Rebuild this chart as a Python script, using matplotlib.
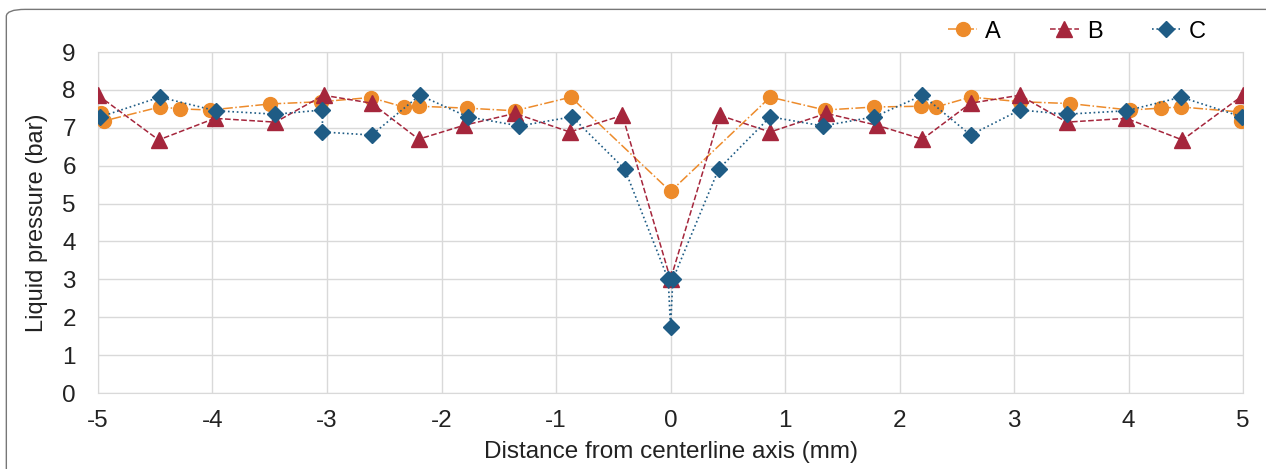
import matplotlib.pyplot as plt
from matplotlib.patches import FancyBboxPatch

plt.rcParams['font.family'] = ['Liberation Sans', 'DejaVu Sans']
plt.rcParams['axes.unicode_minus'] = False

# Series A (orange circles)
a_x = [-4.97, -4.95, -4.46, -4.28, -4.02, -3.50, -3.05, -2.62, -2.33, -2.20, -1.78, -1.36, -0.87, 0.0,
       0.87, 1.35, 1.78, 2.19, 2.32, 2.62, 3.05, 3.49, 4.01, 4.28, 4.46, 4.97, 4.98]
a_y = [7.39, 7.18, 7.55, 7.50, 7.47, 7.63, 7.69, 7.80, 7.55, 7.57, 7.52, 7.45, 7.81, 5.32,
       7.81, 7.47, 7.55, 7.57, 7.55, 7.81, 7.69, 7.64, 7.47, 7.52, 7.55, 7.42, 7.17]

# Series B (red triangles)
b_x = [-5.0, -4.47, -3.98, -3.45, -3.03, -2.61, -2.20, -1.80, -1.36, -0.88, -0.42, 0.0,
       0.43, 0.87, 1.36, 1.80, 2.20, 2.62, 3.05, 3.46, 3.98, 4.47, 5.0]
b_y = [7.86, 6.68, 7.25, 7.15, 7.86, 7.65, 6.70, 7.07, 7.38, 6.89, 7.33, 3.00,
       7.33, 6.89, 7.38, 7.07, 6.70, 7.65, 7.86, 7.15, 7.25, 6.68, 7.86]

# Series C (blue diamonds)
c_x = [-4.98, -4.46, -3.97, -3.45, -3.04, -3.04, -2.61, -2.19, -1.77, -1.32, -0.86, -0.40,
       -0.02, 0.0, 0.02,
       0.42, 0.87, 1.33, 1.78, 2.20, 2.62, 3.05, 3.46, 3.98, 4.46, 4.99]
c_y = [7.29, 7.81, 7.45, 7.36, 7.47, 6.89, 6.81, 7.86, 7.29, 7.05, 7.29, 5.91,
       3.00, 1.73, 3.00,
       5.91, 7.29, 7.05, 7.29, 7.86, 6.81, 7.47, 7.36, 7.45, 7.81, 7.29]

fig = plt.figure(figsize=(12.66, 4.69), dpi=100)
ax = fig.add_axes([0.0774, 0.162, 0.9045, 0.727])

ax.plot(a_x, a_y, color='#ED8B2B', linestyle='-.', linewidth=1.1, marker='o',
        markersize=10, label='A', zorder=3)
ax.plot(b_x, b_y, color='#A5263C', linestyle='--', linewidth=1.1, marker='^',
        markersize=11, label='B', zorder=4)
ax.plot(c_x, c_y, color='#1F5C85', linestyle=':', linewidth=1.2, marker='D',
        markersize=8, label='C', zorder=5)

ax.set_xlim(-5, 5)
ax.set_ylim(0, 9)
ax.set_xticks(range(-5, 6))
ax.set_yticks(range(0, 10))
ax.grid(True, color='#d9d9d9', linewidth=1)
ax.set_axisbelow(True)
for s in ax.spines.values():
    s.set_color('#d9d9d9')
ax.tick_params(length=0, labelsize=17.5, colors='#222222')
ax.tick_params(axis='x', pad=12)
ax.tick_params(axis='y', pad=16)

ax.set_xlabel('Distance from centerline axis (mm)', fontsize=17.5, color='#222222', labelpad=7)
ax.set_ylabel('Liquid pressure (bar)', fontsize=17, color='#222222', labelpad=10)

ax.legend(loc='center', bbox_to_anchor=(0.855, 1.06), ncol=3, frameon=False,
          fontsize=17, handlelength=1.2, columnspacing=2.1, handletextpad=0.35)

# rounded outline around the chart
border = FancyBboxPatch((0.005, -0.1), 1.1, 1.08, boxstyle='round,pad=0,rounding_size=0.015',
                        transform=fig.transFigure, fill=False, edgecolor='#777777',
                        linewidth=1, clip_on=False)
fig.patches.append(border)

fig.savefig('out.png', dpi=100)
